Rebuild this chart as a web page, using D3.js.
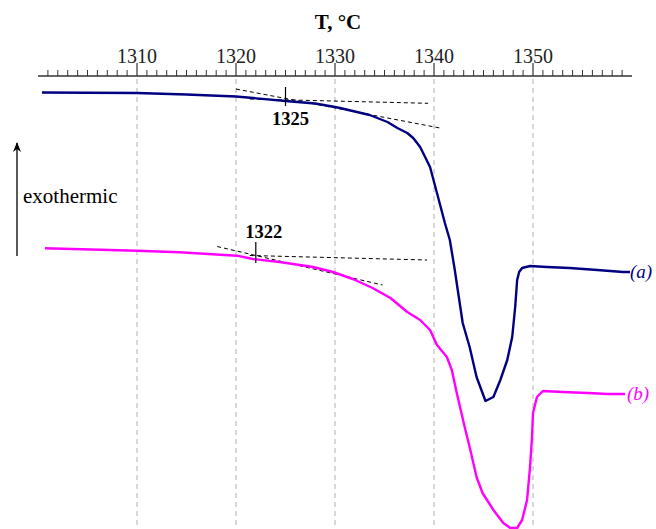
<!DOCTYPE html>
<html>
<head>
<meta charset="utf-8">
<script src="https://cdn.jsdelivr.net/npm/d3@7"></script>
<style>
    body { margin: 0; background: #fff; }
    svg { display: block; font-family: "Liberation Serif", "Times New Roman", serif; }
</style>
</head>
<body>
<div class="charts-div"></div>
<script>
// temperature ticks on the top axis
const majorTicks = [1310, 1320, 1330, 1340, 1350];
const minorTicks = d3.range(1301, 1360);

// DSC signal, arbitrary units (curve a)
const curveA = [
    [1300.4, -0.25], [1305, -0.28], [1310, -0.3], [1315, -0.45], [1320, -0.65],
    [1325, -1.1], [1328, -1.35], [1330, -1.7], [1330.5, -1.8], [1333.5, -2.5],
    [1335.3, -3.2], [1336.3, -3.8], [1337.3, -4.3], [1337.9, -4.8], [1338.6, -5.7],
    [1339.6, -7.7], [1340.3, -10.3], [1341.1, -13.3], [1341.6, -15.0], [1342.1, -18.0],
    [1342.4, -20.0], [1342.9, -23.3], [1343.6, -25.7], [1344.3, -28.7], [1345.2, -31.1],
    [1346.0, -30.7], [1346.7, -29.0], [1347.4, -27.0], [1347.9, -24.7], [1348.2, -21.7],
    [1348.4, -19.0], [1348.6, -18.2], [1348.9, -17.8], [1349.7, -17.6], [1351.4, -17.7],
    [1353.7, -17.8], [1356.5, -18.0], [1359.1, -18.2], [1359.8, -18.2]
];

// DSC signal, arbitrary units (curve b)
const curveB = [
    [1300.7, -15.83], [1310, -16.07], [1314.3, -16.23], [1320.1, -16.57], [1321.7, -16.9],
    [1324.4, -17.2], [1327.8, -17.7], [1329.8, -18.2], [1331.8, -18.9], [1333.8, -19.8],
    [1335.6, -20.8], [1337.3, -22.2], [1338.6, -23.0], [1339.6, -24.0], [1340.3, -25.5],
    [1341.3, -26.7], [1341.8, -28.0], [1342.3, -30.3], [1343.1, -33.7], [1343.6, -35.7],
    [1344.3, -38.7], [1344.9, -40.3], [1346.0, -42.0], [1347.0, -43.3], [1347.7, -43.8],
    [1348.4, -43.8], [1348.9, -43.0], [1349.4, -41.0], [1349.7, -37.7], [1349.9, -34.7],
    [1350.0, -32.3], [1350.4, -30.7], [1351.0, -30.1], [1353.0, -30.2], [1355.5, -30.3],
    [1357.5, -30.4], [1359.3, -30.4]
];

// onset construction: tangent lines [T, signal] pairs
const tangentsA = [
    [[1320, 0.1], [1340.6, -3.8]],
    [[1321.4, -0.9], [1339.4, -1.33]]
];
const tangentsB = [
    [[1318.1, -15.65], [1334.8, -19.5]],
    [[1321.4, -16.55], [1339.3, -17.0]]
];
const onsets = [
    { temp: 1325, top: 0.3, bottom: -1.6, label: "1325" },
    { temp: 1322, top: -15.2, bottom: -17.3, label: "1322" }
];

const width = 656;
const height = 529;
const axisY = 76;

const x = d3.scaleLinear().domain([1300, 1360]).range([38, 632]);
const y = d3.scaleLinear().domain([0, -44]).range([90, 530]);

const svg = d3.select(".charts-div").append("svg")
    .attr("width", width)
    .attr("height", height)
    .attr("viewBox", [0, 0, width, height]);

// vertical dashed grid lines
svg.append("g")
    .selectAll("line")
    .data(majorTicks)
    .join("line")
    .attr("x1", d => x(d))
    .attr("x2", d => x(d))
    .attr("y1", axisY + 3)
    .attr("y2", height)
    .attr("stroke", "#b0b0b0")
    .attr("stroke-width", 1)
    .attr("stroke-dasharray", "5,4");

// top axis
const axis = svg.append("g");
axis.append("line")
    .attr("x1", x(1300)).attr("x2", x(1360))
    .attr("y1", axisY).attr("y2", axisY)
    .attr("stroke", "#333").attr("stroke-width", 1.6);

axis.append("g")
    .selectAll("line")
    .data(minorTicks.filter(d => !majorTicks.includes(d)))
    .join("line")
    .attr("x1", d => x(d)).attr("x2", d => x(d))
    .attr("y1", axisY - 6).attr("y2", axisY)
    .attr("stroke", "#333").attr("stroke-width", 1);

axis.append("g")
    .selectAll("line")
    .data(majorTicks)
    .join("line")
    .attr("x1", d => x(d)).attr("x2", d => x(d))
    .attr("y1", axisY - 13).attr("y2", axisY)
    .attr("stroke", "#333").attr("stroke-width", 1.2);

axis.append("g")
    .selectAll("text")
    .data(majorTicks)
    .join("text")
    .attr("x", d => x(d))
    .attr("y", axisY - 13)
    .attr("text-anchor", "middle")
    .attr("font-size", 20)
    .attr("fill", "#222")
    .text(d => d);

svg.append("text")
    .attr("x", 338)
    .attr("y", 29)
    .attr("text-anchor", "middle")
    .attr("font-size", 21)
    .attr("font-weight", "bold")
    .text("T, °C");

// tangent lines
const line = d3.line().x(d => x(d[0])).y(d => y(d[1]));

svg.append("g")
    .selectAll("path")
    .data(tangentsA.concat(tangentsB))
    .join("path")
    .attr("d", line)
    .attr("fill", "none")
    .attr("stroke", "#000")
    .attr("stroke-width", 1)
    .attr("stroke-dasharray", "4,3");

// curves
svg.append("path")
    .datum(curveA)
    .attr("d", line)
    .attr("fill", "none")
    .attr("stroke", "#000080")
    .attr("stroke-width", 2.4)
    .attr("stroke-linejoin", "round");

svg.append("path")
    .datum(curveB)
    .attr("d", line)
    .attr("fill", "none")
    .attr("stroke", "#ff00ff")
    .attr("stroke-width", 2.4)
    .attr("stroke-linejoin", "round");

// onset markers
const onsetG = svg.append("g")
    .selectAll("g")
    .data(onsets)
    .join("g");

onsetG.append("line")
    .attr("x1", d => x(d.temp)).attr("x2", d => x(d.temp))
    .attr("y1", d => y(d.top)).attr("y2", d => y(d.bottom))
    .attr("stroke", "#000").attr("stroke-width", 1.2);

onsetG.append("text")
    .attr("x", (d, i) => x(d.temp) + (i === 0 ? 5 : 8))
    .attr("y", (d, i) => i === 0 ? y(d.bottom) + 19 : y(d.top) - 4)
    .attr("text-anchor", "middle")
    .attr("font-size", 18.5)
    .attr("font-weight", "bold")
    .text(d => d.label);

// curve labels
svg.append("text")
    .attr("x", 630)
    .attr("y", y(curveA[curveA.length - 1][1]) + 6)
    .attr("font-size", 19)
    .attr("font-style", "italic")
    .attr("fill", "#000080")
    .text("(a)");

svg.append("text")
    .attr("x", 627)
    .attr("y", y(curveB[curveB.length - 1][1]) + 6)
    .attr("font-size", 19)
    .attr("font-style", "italic")
    .attr("fill", "#ff00ff")
    .text("(b)");

// exothermic arrow
svg.append("defs").append("marker")
    .attr("id", "arrow")
    .attr("viewBox", "0 0 10 10")
    .attr("refX", 9).attr("refY", 5)
    .attr("markerWidth", 10).attr("markerHeight", 10)
    .attr("markerUnits", "userSpaceOnUse")
    .attr("orient", "auto")
    .append("path")
    .attr("d", "M0,1 L10,5 L0,9 L3,5 Z")
    .attr("fill", "#000");

svg.append("line")
    .attr("x1", 17).attr("x2", 17)
    .attr("y1", 256).attr("y2", 143)
    .attr("stroke", "#000").attr("stroke-width", 1.3)
    .attr("marker-end", "url(#arrow)");

svg.append("text")
    .attr("x", 23)
    .attr("y", 203)
    .attr("font-size", 21)
    .text("exothermic");
</script>
</body>
</html>
